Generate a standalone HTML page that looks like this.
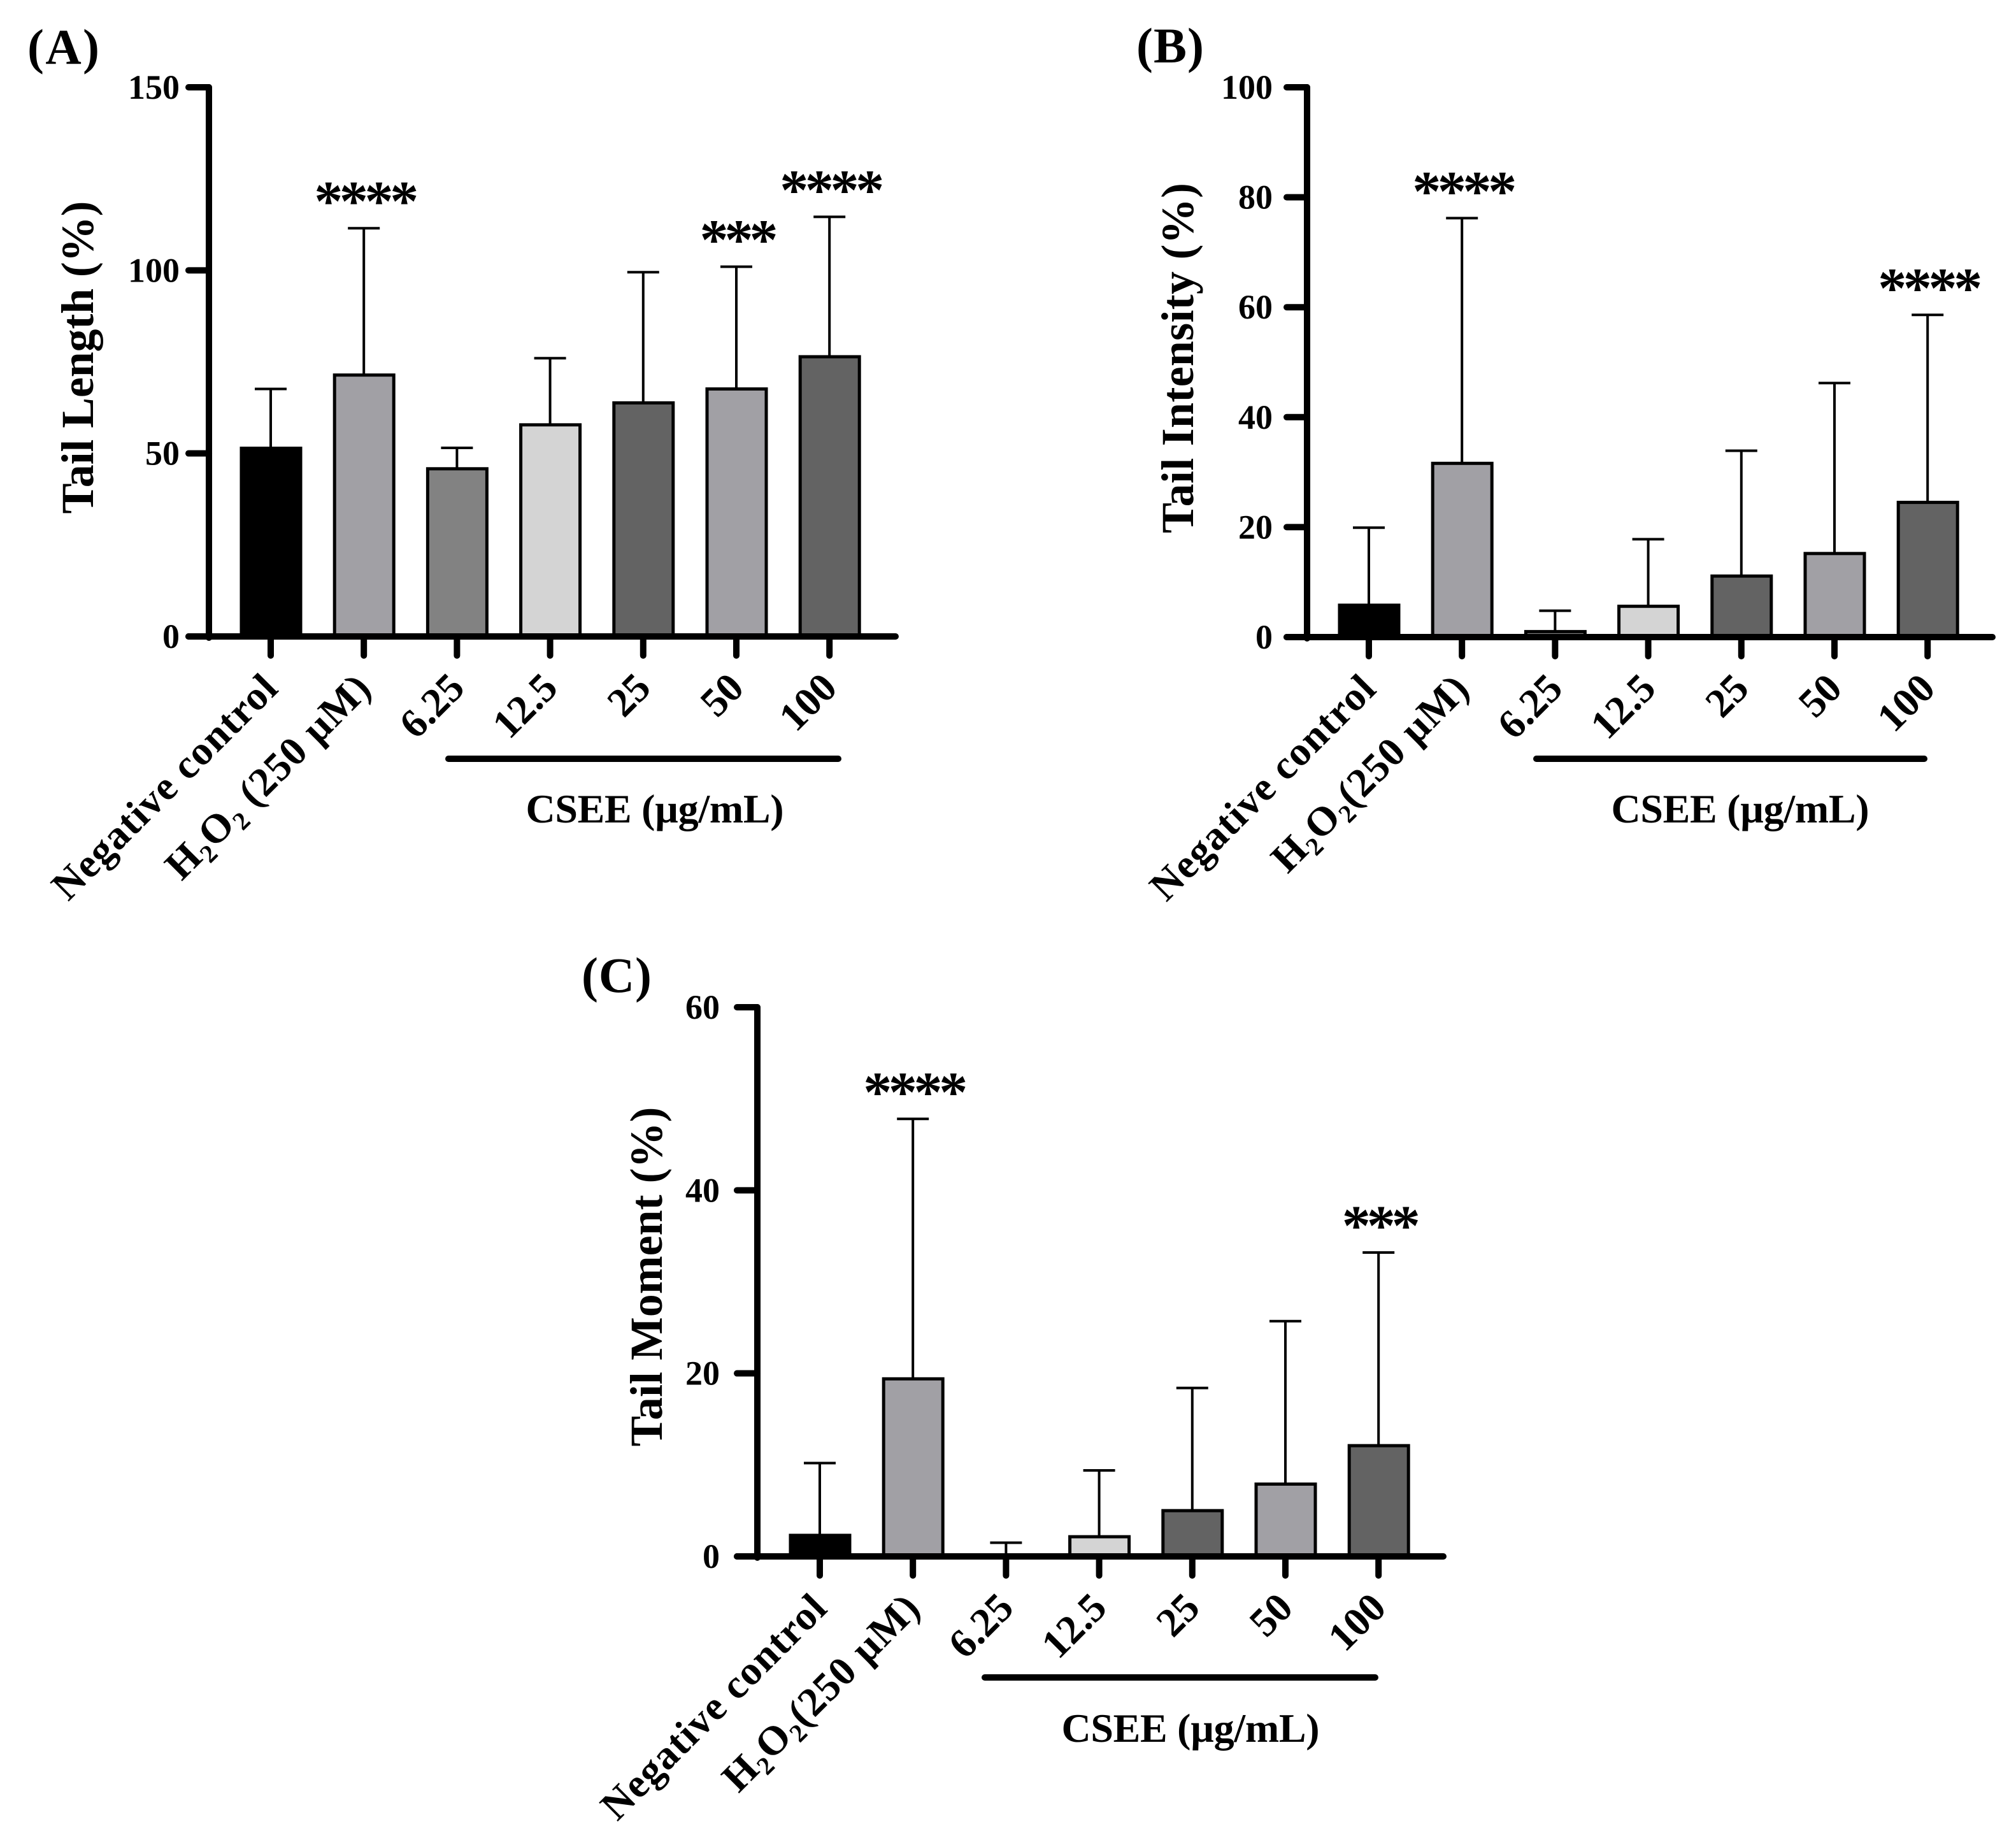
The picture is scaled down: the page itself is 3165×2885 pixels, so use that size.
<!DOCTYPE html>
<html lang="en">
<head>
<meta charset="utf-8">
<title>Comet assay tail measures</title>
<style>
  html, body { margin: 0; padding: 0; background: #fff; }
  svg { display: block; }
  text { font-family: "Liberation Serif", serif; font-weight: bold; fill: #000; }
</style>
</head>
<body>
<svg id="figure" xmlns="http://www.w3.org/2000/svg" width="3165" height="2885" viewBox="0 0 3165 2885"></svg>
<script>
const categoriesSpaced = ['Negative control', 'H2O2 (250 µM)', '6.25', '12.5', '25', '50', '100'];
const categoriesTight = ['Negative control', 'H2O2(250 µM)', '6.25', '12.5', '25', '50', '100'];
const barColors = ['#000000', '#a1a0a5', '#828282', '#d4d4d4', '#636363', '#a1a0a5', '#636363'];

const tailLengthMeans = [51.4, 71.4, 45.8, 57.8, 63.8, 67.6, 76.4];
const tailLengthErrorTops = [67.6, 111.5, 51.5, 76, 99.5, 101, 114.6];
const tailLengthTicks = [0, 50, 100, 150];
const tailLengthStars = ['', '****', '', '', '', '***', '****'];

const tailIntensityMeans = [5.8, 31.6, 1, 5.6, 11.1, 15.2, 24.5];
const tailIntensityErrorTops = [19.9, 76.2, 4.8, 17.8, 33.9, 46.2, 58.6];
const tailIntensityTicks = [0, 20, 40, 60, 80, 100];
const tailIntensityStars = ['', '****', '', '', '', '', '****'];

const tailMomentMeans = [2.3, 19.4, 0.1, 2.15, 5, 7.9, 12.1];
const tailMomentErrorTops = [10.2, 47.8, 1.5, 9.4, 18.4, 25.7, 33.2];
const tailMomentTicks = [0, 20, 40, 60];
const tailMomentStars = ['', '****', '', '', '', '', '***'];

const panels = [
  { key: 'a', letter: '(A)', title: 'Tail Length (%)', cats: categoriesSpaced, means: tailLengthMeans, tops: tailLengthErrorTops, ticks: tailLengthTicks, stars: tailLengthStars,
    axisX: 328, baseY: 999, topY: 137, firstX: 425, step: 146.2, endX: 1406, tickRight: 282,
    titleX: 146, titleY: 561, titleLen: 491, letterX: 43, letterY: 100, letterLen: 113,
    groupX1: 704, groupX2: 1316, groupY: 1191, groupTextX: 1028, groupTextY: 1291 },
  { key: 'b', letter: '(B)', title: 'Tail Intensity (%)', cats: categoriesTight, means: tailIntensityMeans, tops: tailIntensityErrorTops, ticks: tailIntensityTicks, stars: tailIntensityStars,
    axisX: 2052, baseY: 1000, topY: 137, firstX: 2149, step: 146.2, endX: 3128, tickRight: 1998,
    titleX: 1873, titleY: 562, titleLen: 550, letterX: 1784, letterY: 98, letterLen: 106,
    groupX1: 2412, groupX2: 3021, groupY: 1191, groupTextX: 2732, groupTextY: 1291 },
  { key: 'c', letter: '(C)', title: 'Tail Moment (%)', cats: categoriesTight, means: tailMomentMeans, tops: tailMomentErrorTops, ticks: tailMomentTicks, stars: tailMomentStars,
    axisX: 1189, baseY: 2443, topY: 1581, firstX: 1287, step: 146.2, endX: 2266, tickRight: 1130,
    titleX: 1039, titleY: 2004, titleLen: 533, letterX: 913, letterY: 1557, letterLen: 110,
    groupX1: 1546, groupX2: 2159, groupY: 2633, groupTextX: 1869, groupTextY: 2734 }
];

const svgNS = 'http://www.w3.org/2000/svg';
const figure = document.getElementById('figure');

function shape(tag, parent, attrs) {
  const el = document.createElementNS(svgNS, tag);
  for (const k in attrs) el.setAttribute(k, attrs[k]);
  parent.appendChild(el);
  return el;
}

function strokeLine(parent, x1, y1, x2, y2, w, cap) {
  return shape('line', parent, { x1: x1, y1: y1, x2: x2, y2: y2, stroke: '#000', 'stroke-width': w, 'stroke-linecap': cap || 'butt' });
}

function drawPanel(p) {
  const maxTick = p.ticks[p.ticks.length - 1];
  const yScale = v => p.baseY - (v / maxTick) * (p.baseY - p.topY);
  const xScale = i => p.firstX + i * p.step;

  const g = shape('g', figure, {});
  
  

  const letter = shape('text', g, { x: p.letterX, y: p.letterY, 'font-size': 78, textLength: p.letterLen, lengthAdjust: 'spacing' });
  letter.textContent = p.letter;
  
  

  const title = shape('text', g, { x: p.titleX, y: p.titleY, 'font-size': 72, 'text-anchor': 'middle', textLength: p.titleLen, lengthAdjust: 'spacing', transform: 'rotate(-90 ' + p.titleX + ' ' + p.titleY + ')' });
  title.textContent = p.title;
  
  

  p.means.forEach((m, i) => {
    const cx = xScale(i);
    const top = yScale(p.tops[i]);
    const yBar = yScale(m);

    const stem = strokeLine(g, cx, yBar, cx, top, 4);
    
    

    const cap = strokeLine(g, cx - 25, top, cx + 25, top, 4);
    
    

    const bar = shape('rect', g, { x: cx - 46, y: yBar, width: 93, height: p.baseY - yBar, fill: barColors[i], stroke: '#000', 'stroke-width': 5 });
    
    

    if (p.stars[i]) {
      const star = shape('text', g, { x: cx + 4, y: top - 12, 'font-size': 90, 'text-anchor': 'middle', textLength: p.stars[i].length * 41, lengthAdjust: 'spacing' });
      star.textContent = p.stars[i];
      
      
    }

    const tick = strokeLine(g, cx, p.baseY, cx, p.baseY + 30, 10, 'round');
    
    

    const lx = cx + 15;
    const ly = p.baseY + 84;
    const spacing = p.cats[i].length > 5 ? 1.4 : 0;
    const label = shape('text', g, { x: lx, y: ly, 'font-size': 64, 'letter-spacing': spacing, 'text-anchor': 'end', transform: 'rotate(-45 ' + lx + ' ' + ly + ')' });
    
    
    const parts = p.cats[i].split(/(?<=[HO])2/);
    parts.forEach((part, j) => {
      if (j > 0) {
        const sub = shape('tspan', label, { dy: 12, 'font-size': 40 });
        sub.textContent = '2';
      }
      const run = shape('tspan', label, j > 0 ? { dy: -12 } : {});
      run.textContent = part;
    });
  });

  const yAxis = strokeLine(g, p.axisX, p.topY, p.axisX, p.baseY + 2, 10, 'round');
  
  

  const xAxis = strokeLine(g, p.axisX - 32, p.baseY, p.endX, p.baseY, 10, 'round');
  
  

  p.ticks.forEach(t => {
    const y = yScale(t);
    const tk = strokeLine(g, p.axisX - 32, y, p.axisX, y, 10, 'round');
    
    

    const lb = shape('text', g, { x: p.tickRight, y: y + 18, 'font-size': 54, 'text-anchor': 'end' });
    lb.textContent = String(t);
    
    
  });

  const groupLine = strokeLine(g, p.groupX1, p.groupY, p.groupX2, p.groupY, 10, 'round');
  
  

  const groupText = shape('text', g, { x: p.groupTextX, y: p.groupTextY, 'font-size': 64, 'text-anchor': 'middle', textLength: 405, lengthAdjust: 'spacing' });
  groupText.textContent = 'CSEE (µg/mL)';
  
  
}

panels.forEach(drawPanel);
</script>
</body>
</html>
